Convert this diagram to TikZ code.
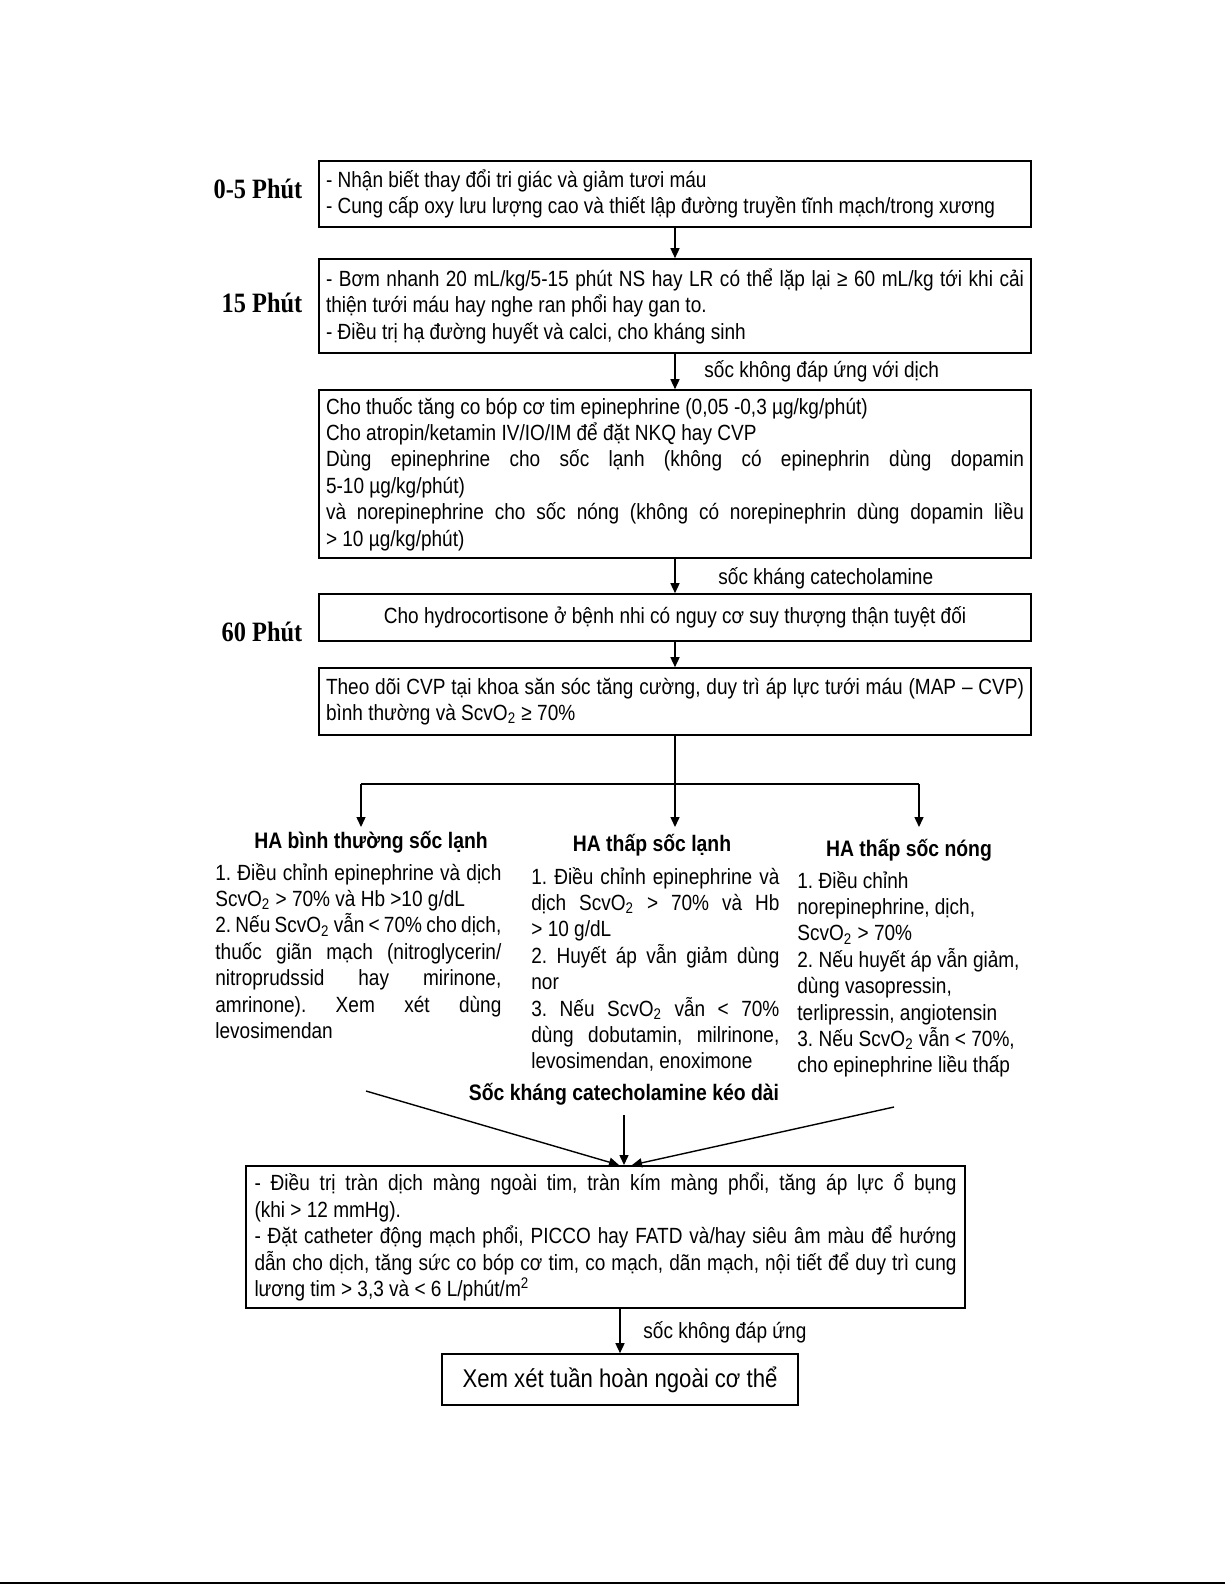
\documentclass[tikz,border=0pt]{standalone}
\usepackage{fontspec}
\setmainfont{Liberation Sans}[FakeStretch=0.865]
\newfontfamily\tnr{Liberation Serif}[FakeStretch=0.87]
\usetikzlibrary{arrows.meta}
\newcommand\J[1]{\makebox[\hsize][s]{#1}}
\newcommand\C[1]{\makebox[\hsize][c]{#1}}
\newcommand\sub[1]{\textsubscript{#1}}
\begin{document}
\begin{tikzpicture}[x=0.5pt,y=-0.5pt,
  every node/.style={font=\fontsize{11}{13.2}\selectfont\frenchspacing, inner sep=0pt},
  box/.style={draw, line width=0.8pt, inner xsep=3.5pt, inner ysep=2pt, text width=349pt, align=justify},
  tlab/.style={font=\tnr\bfseries\fontsize{14}{16}\selectfont},
  arr/.style={line width=0.7pt, -{Triangle[length=5pt,width=4.5pt]}},
  ln/.style={line width=0.7pt},
  head/.style={font=\bfseries\fontsize{11.2}{13.2}\selectfont, anchor=base},
  col/.style={anchor=base west, align=justify},
  lab/.style={anchor=base west},
]
\useasboundingbox (0,0) rectangle (1225,1585);
\fill[white] (0,0) rectangle (1225,1585);

% time labels
\node[tlab] (t05) at (258,189) {0-5 Phút};
\node[tlab] (t15) at (262,303) {15 Phút};
\node[tlab] (t60) at (262,632) {60 Phút};

% main boxes
\node[box, minimum height=33pt] (b1) at (675,194) {- Nhận biết thay đổi tri giác và giảm tươi máu\\- Cung cấp oxy lưu lượng cao và thiết lập đường truyền tĩnh mạch/trong xương};
\node[box, minimum height=47pt] (b2) at (675,306) {\J{- Bơm nhanh 20 mL/kg/5-15 phút NS hay LR có thể lặp lại ≥ 60 mL/kg tới khi cải}\\thiện tưới máu hay nghe ran phổi hay gan to.\\- Điều trị hạ đường huyết và calci, cho kháng sinh};
\node[box, minimum height=84pt] (b3) at (675,474) {Cho thuốc tăng co bóp cơ tim epinephrine (0,05 -0,3 µg/kg/phút)\\Cho atropin/ketamin IV/IO/IM để đặt NKQ hay CVP\\\J{Dùng epinephrine cho sốc lạnh (không có epinephrin dùng dopamin}\\5-10 µg/kg/phút)\\\J{và norepinephrine cho sốc nóng (không có norepinephrin dùng dopamin liều}\\> 10 µg/kg/phút)};
\node[box, minimum height=23.5pt] (b4) at (675,617.5) {\C{Cho hydrocortisone ở bệnh nhi có nguy cơ suy thượng thận tuyệt đối}};
\node[box, minimum height=33.5pt] (b5) at (675,701.5) {\J{Theo dõi CVP tại khoa săn sóc tăng cường, duy trì áp lực tưới máu (MAP – CVP)}\\bình thường và ScvO\sub{2} ≥ 70\%};

% arrow labels
\node[lab] (l1) at (704,377) {sốc không đáp ứng với dịch};
\node[lab] (l2) at (718,584) {sốc kháng catecholamine};

\draw[arr] (b1.south) -- (b2.north);
\draw[arr] (b2.south) -- (b3.north);
\draw[arr] (b3.south) -- (b4.north);
\draw[arr] (b4.south) -- (b5.north);

% branching
\coordinate (jl) at (361,784);
\coordinate (jr) at (919,784);
\coordinate (e1) at (361,827);
\coordinate (e2) at (675,827);
\coordinate (e3) at (919,827);
\draw[arr] (b5.south) -- (e2);
\draw[ln] (jl) -- (jr);
\draw[arr] (jl) -- (e1);
\draw[arr] (jr) -- (e3);

% column heads
\node[head] (h1) at (371,848) {HA bình thường sốc lạnh};
\node[head] (h2) at (652,851) {HA thấp sốc lạnh};
\node[head] (h3) at (909,856) {HA thấp sốc nóng};

% columns
\node[col, text width=143pt] (c1) at (215,880) {\J{1. Điều chỉnh epinephrine và dịch}\\ScvO\sub{2} > 70\% và Hb >10 g/dL\\\J{2. Nếu ScvO\sub{2} vẫn < 70\% cho dịch,}\\\J{thuốc giãn mạch (nitroglycerin/}\\\J{nitroprudssid hay mirinone,}\\\J{amrinone). Xem xét dùng}\\levosimendan};
\node[col, text width=124pt] (c2) at (531,884) {\J{1. Điều chỉnh epinephrine và}\\\J{dịch ScvO\sub{2} > 70\% và Hb}\\> 10 g/dL\\\J{2. Huyết áp vẫn giảm dùng}\\nor\\\J{3. Nếu ScvO\sub{2} vẫn < 70\%}\\\J{dùng dobutamin, milrinone,}\\levosimendan, enoximone};
\node[col, text width=130pt] (c3) at (797,888) {1. Điều chỉnh\\norepinephrine, dịch,\\ScvO\sub{2} > 70\%\\2. Nếu huyết áp vẫn giảm,\\dùng vasopressin,\\terlipressin, angiotensin\\3. Nếu ScvO\sub{2} vẫn < 70\%,\\cho epinephrine liều thấp};

% converging
\node[head] (h4) at (624,1100) {Sốc kháng catecholamine kéo dài};
\coordinate (cl) at (366,1091);
\coordinate (cm) at (624,1115);
\coordinate (cr) at (894,1107);
\coordinate (el) at (619,1165);
\coordinate (em) at (624,1165);
\coordinate (er) at (632,1165);
\draw[arr] (cl) -- (el);
\draw[arr] (cm) -- (em);
\draw[arr] (cr) -- (er);

\node[box, text width=351pt, inner xsep=4.25pt, minimum height=71pt] (b6) at (605.5,1237) {\J{- Điều trị tràn dịch màng ngoài tim, tràn kím màng phổi, tăng áp lực ổ bụng}\\(khi > 12 mmHg).\\\J{- Đặt catheter động mạch phổi, PICCO hay FATD và/hay siêu âm màu để hướng}\\\J{dẫn cho dịch, tăng sức co bóp cơ tim, co mạch, dãn mạch, nội tiết để duy trì cung}\\lương tim > 3,3 và < 6 L/phút/m\textsuperscript{2}};

\node[draw, line width=0.8pt, minimum width=178pt, minimum height=25.5pt, font=\fontsize{12.8}{15}\selectfont] (b7) at (620,1379.5) {Xem xét tuần hoàn ngoài cơ thể};
\node[lab] (l3) at (643,1338) {sốc không đáp ứng};
\draw[arr] (b7.north |- b6.south) -- (b7.north);

% page edge line
\draw[line width=1.2pt] (0,1583) -- (1225,1583);
\end{tikzpicture}
\end{document}
